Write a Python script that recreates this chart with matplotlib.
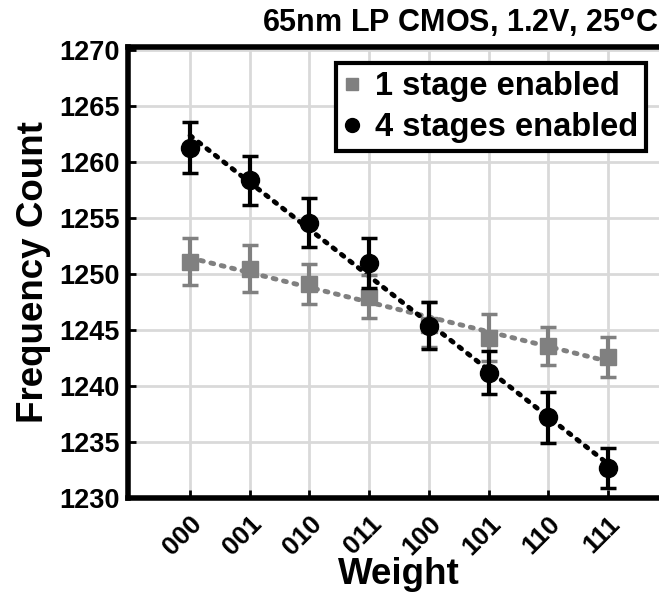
import numpy as np
import matplotlib
matplotlib.use("Agg")
import matplotlib.pyplot as plt
from matplotlib.lines import Line2D

plt.rcParams['font.family'] = ['Liberation Sans', 'DejaVu Sans']
plt.rcParams['font.weight'] = 'bold'
plt.rcParams['mathtext.default'] = 'regular'

weights = ["000", "001", "010", "011", "100", "101", "110", "111"]
one_stage = [1251.1, 1250.5, 1249.1, 1248.0, 1245.5, 1244.3, 1243.6, 1242.6]
one_stage_err = [2.1, 2.1, 1.8, 1.9, 2.0, 2.1, 1.7, 1.8]
four_stage = [1261.3, 1258.4, 1254.6, 1251.0, 1245.4, 1241.2, 1237.2, 1232.7]
four_stage_err = [2.3, 2.2, 2.2, 2.2, 2.1, 1.9, 2.3, 1.8]
yticks = [1230, 1235, 1240, 1245, 1250, 1255, 1260, 1265, 1270]
labels = ['1 stage enabled', '4 stages enabled']

fig = plt.figure(figsize=(6.59, 5.94), dpi=100)
ax = fig.add_axes([128/659, 1-498/594, 542/659, (498-47)/594])

x = np.arange(len(weights))
gray = '#808080'

for vals, col in [(one_stage, gray), (four_stage, 'black')]:
    p = np.polyfit(x, vals, 1)
    ax.plot(x, np.polyval(p, x), linestyle=(0, (0.6, 1.6)), color=col, lw=3.5,
            dash_capstyle='round', zorder=2)

ax.errorbar(x, one_stage, yerr=one_stage_err, fmt='s', color=gray, ms=11.5,
            elinewidth=3, capsize=6, capthick=2.5, zorder=3)
ax.errorbar(x, four_stage, yerr=four_stage_err, fmt='o', color='black', ms=13,
            elinewidth=3, capsize=6, capthick=2.5, zorder=4)

ax.set_xlim(-1.04, 8.04)
ax.set_ylim(1230, 1270.3)
ax.set_xticks(x)
ax.set_xticklabels(weights, rotation=45, ha='right', rotation_mode='anchor',
                   fontsize=19, fontweight='bold')
ax.set_yticks(yticks)
ax.set_yticklabels([str(v) for v in yticks], fontsize=19.5, fontweight='bold')
ax.tick_params(direction='in', length=6, width=2, pad=6)
ax.tick_params(axis='x', pad=10)
ax.grid(True, color='#d9d9d9', lw=2)
ax.set_axisbelow(True)
for s in ax.spines.values():
    s.set_linewidth(4)

ax.set_xlabel('Weight', fontsize=26.5, fontweight='bold', labelpad=-2)
ax.set_ylabel('Frequency Count', fontsize=26.5, fontweight='bold', labelpad=6)

handles = [Line2D([], [], marker='s', color=gray, ls='none', ms=9),
           Line2D([], [], marker='o', color='black', ls='none', ms=10)]
leg = ax.legend(handles, labels, loc='upper right', bbox_to_anchor=(0.956, 0.9645),
                prop={'weight': 'bold', 'size': 23.5}, frameon=True, fancybox=False,
                handlelength=0.5, handletextpad=0.45, borderpad=0.25,
                labelspacing=0.3, borderaxespad=0, framealpha=1)
leg.get_frame().set_edgecolor('black')
leg.get_frame().set_linewidth(3)

fig.text(1.0, 0.962, '65nm LP CMOS, 1.2V, 25$^\\mathbf{o}$C', ha='right', va='center',
         fontsize=22, fontweight='bold')

fig.savefig('out.png', dpi=100)
